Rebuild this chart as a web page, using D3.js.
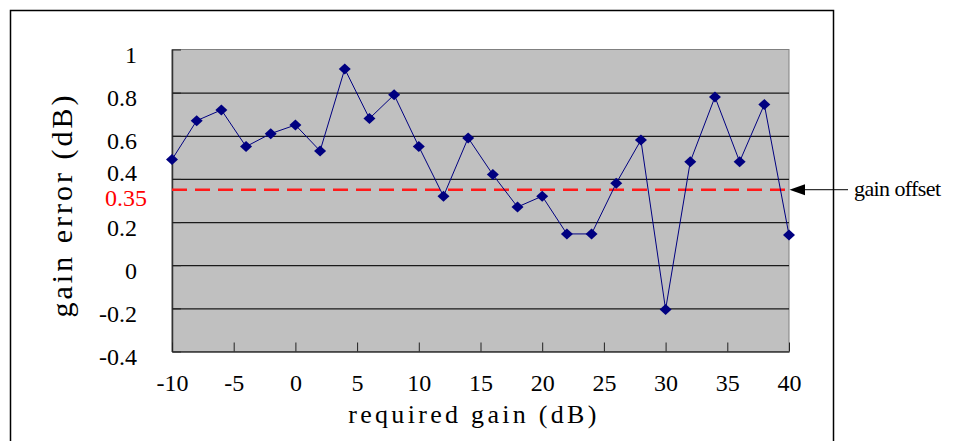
<!DOCTYPE html>
<html>
<head>
<meta charset="utf-8">
<script src="https://cdn.jsdelivr.net/npm/d3@7"></script>
<style>
  body { margin: 0; background: #fff; }
  text { font-family: "Liberation Serif", "Times New Roman", serif; }
</style>
</head>
<body>
<div id="chart"></div>
<script>
// required gain (dB)
const gains = [-10, -8, -6, -4, -2, 0, 2, 4, 6, 8, 10, 12, 14, 16, 18, 20, 22, 24, 26, 28, 30, 32, 34, 36, 38, 40];
// measured gain error (dB)
const errors = [0.49, 0.67, 0.72, 0.55, 0.61, 0.65, 0.53, 0.91, 0.68, 0.79, 0.55, 0.32, 0.59,
  0.42, 0.27, 0.32, 0.145, 0.145, 0.38, 0.58, -0.205, 0.48, 0.78, 0.48, 0.745, 0.14];
const gainOffset = 0.35;
const xTicks = [-10, -5, 0, 5, 10, 15, 20, 25, 30, 35, 40];
const yTicks = [-0.4, -0.2, 0, 0.2, 0.4, 0.6, 0.8, 1];
const gridTicks = [-0.2, 0, 0.2, 0.4, 0.6, 0.8];

const width = 956;
const height = 441;
const margin = { top: 49.5, right: 167, bottom: 89.5, left: 172 };

// plain hyphen instead of d3's unicode minus
const fmt = d => String(+d.toFixed(1));

const svg = d3.select("#chart")
  .append("svg")
  .attr("width", width)
  .attr("height", height);

// outer frame (bottom edge runs off the picture)
svg.append("rect")
  .attr("x", 10.5).attr("y", 10.5)
  .attr("width", 823).attr("height", 460)
  .attr("fill", "none")
  .attr("stroke", "#000")
  .attr("stroke-width", 1.5);

const x = d3.scaleLinear()
  .domain([-10, 40])
  .range([margin.left, width - margin.right]);

const y = d3.scaleLinear()
  .domain([-0.4, 1])
  .range([height - margin.bottom, margin.top]);

// plot area
svg.append("rect")
  .attr("x", x(-10)).attr("y", y(1))
  .attr("width", x(40) - x(-10))
  .attr("height", y(-0.4) - y(1))
  .attr("fill", "#c0c0c0")
  .attr("stroke", "#808080");

// gridlines
svg.append("g")
  .attr("transform", `translate(${x(-10)},0)`)
  .call(d3.axisLeft(y).tickValues(gridTicks).tickSize(-(x(40) - x(-10))).tickFormat(""))
  .call(g => g.select(".domain").remove())
  .call(g => g.selectAll("line").attr("stroke", "#1a1a1a").attr("stroke-width", 1.2));

// y axis
const yAxis = svg.append("g")
  .attr("transform", `translate(${x(-10)},0)`)
  .call(d3.axisLeft(y).tickValues(yTicks).tickSize(-9).tickSizeOuter(0).tickPadding(35).tickFormat(fmt));
yAxis.select(".domain").attr("stroke", "#333").attr("stroke-width", 1.5);
yAxis.selectAll("line").attr("stroke", "#222");
yAxis.selectAll("text")
  .attr("font-size", 24)
  .attr("fill", "#000")
  .attr("dy", d => d === 0.4 ? "1.6px" : "0.55em");

// x axis
const xAxis = svg.append("g")
  .attr("transform", `translate(0,${y(-0.4)})`)
  .call(d3.axisBottom(x).tickValues(xTicks).tickSize(-9).tickSizeOuter(0).tickPadding(0).tickFormat(fmt));
xAxis.select(".domain").attr("stroke", "#333").attr("stroke-width", 1.5);
xAxis.selectAll("line").attr("stroke", "#222");
xAxis.selectAll("text")
  .attr("font-size", 24)
  .attr("fill", "#000")
  .attr("y", 31.5)
  .attr("dy", "0.35em");

// gain offset line
svg.append("line")
  .attr("x1", x(-10)).attr("x2", x(40))
  .attr("y1", y(gainOffset)).attr("y2", y(gainOffset))
  .attr("stroke", "#ff1a1a")
  .attr("stroke-width", 2.5)
  .attr("stroke-dasharray", "15,8");

svg.append("text")
  .attr("x", 147)
  .attr("y", y(gainOffset))
  .attr("dy", "15.8px")
  .attr("text-anchor", "end")
  .attr("font-size", 24)
  .attr("fill", "#ff0000")
  .text("0.35");

// data line + diamond markers
const pts = gains.map((g, i) => ({ g: g, e: errors[i] }));

svg.append("path")
  .datum(pts)
  .attr("fill", "none")
  .attr("stroke", "#000080")
  .attr("stroke-width", 1)
  .attr("d", d3.line().x(d => x(d.g)).y(d => y(d.e)));

svg.append("g")
  .selectAll("path")
  .data(pts)
  .join("path")
    .attr("transform", d => `translate(${x(d.g)},${y(d.e)})`)
    .attr("d", "M0,-5.5L6,0L0,5.5L-6,0Z")
    .attr("fill", "#000080");

// arrow and note
const ax = x(40);
const ay = y(gainOffset);
svg.append("line")
  .attr("x1", ax + 14).attr("x2", ax + 59)
  .attr("y1", ay).attr("y2", ay)
  .attr("stroke", "#000")
  .attr("stroke-width", 1);
svg.append("path")
  .attr("d", `M${ax + 0.5},${ay}L${ax + 16},${ay - 5.5}L${ax + 16},${ay + 5.5}Z`)
  .attr("fill", "#000");
svg.append("text")
  .attr("x", ax + 65)
  .attr("y", ay)
  .attr("dy", "0.3em")
  .attr("font-size", 22)
  .attr("letter-spacing", -0.6)
  .attr("fill", "#000")
  .text("gain offset");

// axis titles
svg.append("text")
  .attr("transform", "translate(72,205) rotate(-90)")
  .attr("text-anchor", "middle")
  .attr("font-size", 30)
  .attr("letter-spacing", 3)
  .attr("fill", "#000")
  .text("gain error (dB)");

svg.append("text")
  .attr("x", 474)
  .attr("y", 423)
  .attr("text-anchor", "middle")
  .attr("font-size", 26)
  .attr("letter-spacing", 3.3)
  .attr("fill", "#000")
  .text("required gain (dB)");
</script>
</body>
</html>
